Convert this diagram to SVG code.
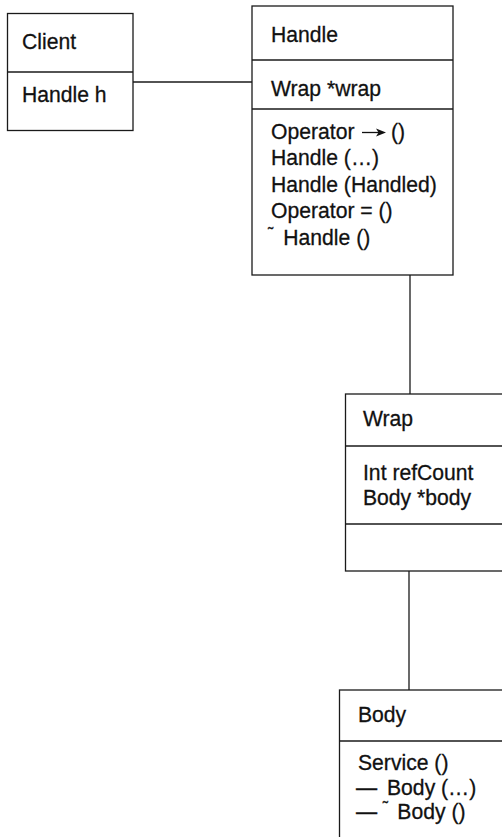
<svg xmlns="http://www.w3.org/2000/svg" width="502" height="837" viewBox="0 0 502 837">
  <style>
    .box { fill: #ffffff; stroke: #1a1a1a; stroke-width: 1.3; }
    .div { stroke: #1a1a1a; stroke-width: 1.3; }
    .link { stroke: #1a1a1a; stroke-width: 1.3; fill: none; }
    text { font-family: "Liberation Sans", Arial, sans-serif; font-size: 22.5px; fill: #111111; stroke: #111111; stroke-width: 0.3; }
    .tl { font-size: 17px; }
    .sym { fill: #111111; stroke: #111111; stroke-width: 1.3; }
  </style>
  <rect width="502" height="837" fill="#ffffff"/>

  <!-- connectors -->
  <g id="connectors">
    <line class="link" x1="133" y1="82" x2="252" y2="82"/>
    <line class="link" x1="410" y1="275" x2="410" y2="394"/>
    <line class="link" x1="409" y1="571" x2="409" y2="690"/>
  </g>

  <!-- Client class -->
  <g id="client">
    <rect class="box" x="7.5" y="13.5" width="125.5" height="117"/>
    <line class="div" x1="7.5" y1="72" x2="133" y2="72"/>
    <text transform="translate(22,48.5) scale(0.94,1)">Client</text>
    <text transform="translate(22,102) scale(0.94,1)">Handle h</text>
  </g>

  <!-- Handle class -->
  <g id="handle">
    <rect class="box" x="252" y="6" width="201" height="269"/>
    <line class="div" x1="252" y1="60" x2="453" y2="60"/>
    <line class="div" x1="252" y1="109" x2="453" y2="109"/>
    <text transform="translate(271,42) scale(0.94,1)">Handle</text>
    <text transform="translate(271,96) scale(0.94,1)">Wrap *wrap</text>
    <text transform="translate(271,138.5) scale(0.94,1)">Operator<tspan x="127.7">()</tspan></text>
    <!-- pointer-operator arrow -->
    <line class="sym" x1="362" y1="132.5" x2="380" y2="132.5"/>
    <path d="M386,132.5 L376,128.5 L378.5,132.5 L376,136.5 Z" fill="#111111"/>
    <text transform="translate(271,165) scale(0.94,1)">Handle (…)</text>
    <text transform="translate(271,191.5) scale(0.94,1)">Handle (Handled)</text>
    <text transform="translate(271,218) scale(0.94,1)">Operator = ()</text>
    <text transform="translate(267,244.5) scale(0.94,1)"><tspan class="tl" x="1" dy="-6">˜</tspan><tspan x="17.3" dy="6">Handle ()</tspan></text>
  </g>

  <!-- Wrap class -->
  <g id="wrap">
    <rect class="box" x="345.5" y="394" width="180" height="177"/>
    <line class="div" x1="345.5" y1="446" x2="525.5" y2="446"/>
    <line class="div" x1="345.5" y1="524" x2="525.5" y2="524"/>
    <text transform="translate(363,426) scale(0.94,1)">Wrap</text>
    <text transform="translate(363,480) scale(0.94,1)">Int refCount</text>
    <text transform="translate(363,505) scale(0.94,1)">Body *body</text>
  </g>

  <!-- Body class -->
  <g id="body">
    <rect class="box" x="339.5" y="690" width="190" height="170"/>
    <line class="div" x1="339.5" y1="741" x2="529.5" y2="741"/>
    <text transform="translate(358,722) scale(0.94,1)">Body</text>
    <text transform="translate(358,770) scale(0.94,1)">Service ()</text>
    <text transform="translate(356,795) scale(0.94,1)">—<tspan x="33">Body (…)</tspan></text>
    <text transform="translate(356,819) scale(0.94,1)">—<tspan class="tl" x="28.5" dy="-6">˜</tspan><tspan x="44" dy="6">Body ()</tspan></text>
  </g>
</svg>
